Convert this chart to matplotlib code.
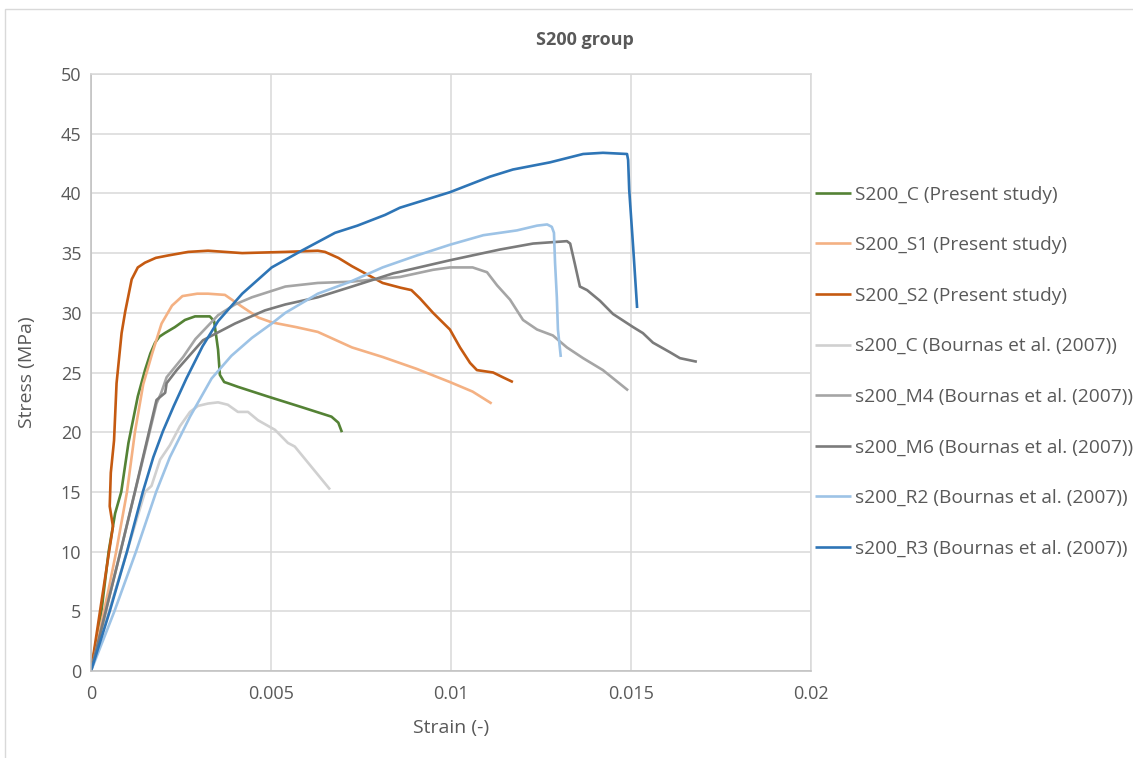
import matplotlib
matplotlib.use("Agg")
import matplotlib.pyplot as plt
from matplotlib.patches import Rectangle

plt.rcParams['font.family'] = ['Open Sans', 'DejaVu Sans']

# Stress-strain curves, S200 group
s200_c_strain = [0, 0.00029, 0.00049, 0.00067, 0.00084, 0.00104, 0.0013, 0.0015, 0.00165, 0.00178,
                 0.0019, 0.00205, 0.00233, 0.00261, 0.00289, 0.0033, 0.00342, 0.00348, 0.00353, 0.00358,
                 0.0037, 0.0038, 0.00408, 0.0049, 0.00585, 0.00668, 0.00687, 0.00697]
s200_c_stress = [0, 5, 10, 13.2, 15, 19.1, 23.0, 25.2, 26.6, 27.5,
                 28.0, 28.3, 28.8, 29.4, 29.7, 29.7, 29.3, 28.0, 26.9, 24.8,
                 24.2, 24.1, 23.8, 23.0, 22.1, 21.3, 20.8, 20.0]

s200_s1_strain = [0, 0.0005, 0.0007, 0.001, 0.00122, 0.00145, 0.0017, 0.00196, 0.00225, 0.00254,
                  0.00295, 0.00325, 0.00372, 0.0042, 0.00465, 0.00502, 0.0057, 0.0063, 0.00725,
                  0.0081, 0.00905, 0.00997, 0.0106, 0.01113]
s200_s1_stress = [0, 7, 10, 15, 20, 24.0, 26.6, 29.1, 30.6, 31.4,
                  31.6, 31.6, 31.5, 30.5, 29.6, 29.2, 28.8, 28.4, 27.1,
                  26.3, 25.3, 24.2, 23.4, 22.4]

s200_s2_strain = [0, 0.0003, 0.00061, 0.00052, 0.00055, 0.00064, 0.00071, 0.00085, 0.00095, 0.00103,
                  0.00113, 0.0013, 0.0015, 0.0018, 0.00214, 0.0027, 0.00325, 0.0042, 0.0054, 0.0063,
                  0.0065, 0.00687, 0.00725, 0.0078, 0.0081, 0.0086, 0.0089, 0.00914, 0.0095, 0.00997,
                  0.01025, 0.01053, 0.01072, 0.01117, 0.01144, 0.01172]
s200_s2_stress = [0, 6, 12.1, 13.8, 16.6, 19.3, 24.1, 28.3, 30.1, 31.3,
                  32.8, 33.8, 34.2, 34.6, 34.8, 35.1, 35.2, 35.0, 35.1, 35.2,
                  35.1, 34.6, 33.9, 33.0, 32.5, 32.1, 31.9, 31.2, 30.0, 28.6,
                  27.1, 25.8, 25.2, 25.0, 24.6, 24.2]

b_c_strain = [0, 0.0015, 0.00168, 0.0018, 0.00192, 0.00219, 0.00247, 0.00275, 0.00297, 0.00325,
              0.00353, 0.0038, 0.00408, 0.00436, 0.00464, 0.00511, 0.00547, 0.00566, 0.00664]
b_c_stress = [0, 15.0, 15.5, 16.6, 17.7, 18.9, 20.5, 21.7, 22.2, 22.4,
              22.5, 22.3, 21.7, 21.7, 21.0, 20.2, 19.1, 18.8, 15.2]

b_m4_strain = [0, 0.0009, 0.00182, 0.00195, 0.0021, 0.00256, 0.0029, 0.00353, 0.004, 0.00447,
               0.0054, 0.0063, 0.0072, 0.00858, 0.0095, 0.00997, 0.0106, 0.011, 0.01128, 0.01164,
               0.012, 0.01239, 0.01283, 0.01322, 0.01367, 0.01422, 0.01492]
b_m4_stress = [0, 11.0, 22.4, 23.3, 24.6, 26.3, 27.8, 29.8, 30.7, 31.3,
               32.2, 32.5, 32.6, 33.0, 33.6, 33.8, 33.8, 33.4, 32.3, 31.1,
               29.4, 28.6, 28.1, 27.1, 26.2, 25.2, 23.5]

b_m6_strain = [0, 0.00082, 0.00121, 0.00182, 0.00206, 0.0021, 0.00238, 0.00311, 0.004, 0.00483,
               0.0054, 0.0063, 0.00725, 0.00839, 0.00997, 0.01136, 0.01228, 0.01322, 0.01331, 0.01344,
               0.01358, 0.01378, 0.01414, 0.0145, 0.01506, 0.01533, 0.01561, 0.01608, 0.01636, 0.01683]
b_m6_stress = [0, 10.0, 14.9, 22.7, 23.3, 24.1, 25.2, 27.7, 29.1, 30.2,
               30.7, 31.3, 32.2, 33.3, 34.4, 35.3, 35.8, 36.0, 35.8, 34.1,
               32.2, 31.9, 31.0, 29.9, 28.8, 28.3, 27.5, 26.7, 26.2, 25.9]

b_r2_strain = [0, 0.00065, 0.00125, 0.00181, 0.00219, 0.00275, 0.00335, 0.0039, 0.00447, 0.00502,
               0.0054, 0.0063, 0.0072, 0.0081, 0.00905, 0.00997, 0.0109, 0.01183, 0.01239, 0.01267,
               0.0128, 0.01286, 0.01289, 0.01294, 0.01297, 0.01305]
b_r2_stress = [0, 5, 10, 15, 17.9, 21.3, 24.5, 26.4, 27.9, 29.1,
               30.0, 31.6, 32.6, 33.8, 34.8, 35.7, 36.5, 36.9, 37.3, 37.4,
               37.2, 36.7, 34.2, 31.3, 28.6, 26.3]

b_r3_strain = [0, 0.00052, 0.001, 0.00144, 0.00173, 0.002, 0.0023, 0.00265, 0.0031, 0.00353,
               0.0042, 0.00502, 0.00585, 0.00678, 0.0074, 0.00817, 0.00858, 0.00997, 0.01108, 0.01172,
               0.01275, 0.01367, 0.01422, 0.01489, 0.01492, 0.01495, 0.01506, 0.01517]
b_r3_stress = [0, 5, 10, 15, 17.9, 20.1, 22.2, 24.5, 27.2, 29.3,
               31.6, 33.8, 35.2, 36.7, 37.3, 38.2, 38.8, 40.1, 41.4, 42.0,
               42.6, 43.3, 43.4, 43.3, 42.8, 40.3, 35.5, 30.4]

series_labels = [
    "S200_C (Present study)",
    "S200_S1 (Present study)",
    "S200_S2 (Present study)",
    "s200_C (Bournas et al. (2007))",
    "s200_M4 (Bournas et al. (2007))",
    "s200_M6 (Bournas et al. (2007))",
    "s200_R2 (Bournas et al. (2007))",
    "s200_R3 (Bournas et al. (2007))",
]
series_data = [
    (s200_c_strain, s200_c_stress),
    (s200_s1_strain, s200_s1_stress),
    (s200_s2_strain, s200_s2_stress),
    (b_c_strain, b_c_stress),
    (b_m4_strain, b_m4_stress),
    (b_m6_strain, b_m6_stress),
    (b_r2_strain, b_r2_stress),
    (b_r3_strain, b_r3_stress),
]
series_colors = ["#548235", "#F4B183", "#C55A11", "#D0D0D0",
                 "#A5A5A5", "#7B7B7B", "#9DC3E6", "#2E75B6"]

x_ticks = [0, 0.005, 0.01, 0.015, 0.02]
x_tick_labels = ["0", "0.005", "0.01", "0.015", "0.02"]
y_ticks = list(range(0, 51, 5))

W, H = 1133, 758
fig = plt.figure(figsize=(W / 100, H / 100), dpi=100)
fig.patch.set_facecolor("white")

# chart-area frame
fig.add_artist(Rectangle((5 / W, -0.5), 2.0, 0.5 + 1 - 8.5 / H, transform=fig.transFigure,
                         fill=False, ec="#D9D9D9", lw=1.0))

ax = fig.add_axes([91 / W, 1 - 671 / H, (811 - 91) / W, (671 - 74) / H])

for (xs, ys), lab, col in zip(series_data, series_labels, series_colors):
    ax.plot(xs, ys, color=col, lw=1.9, label=lab, solid_capstyle="butt", solid_joinstyle="round")

ax.set_xlim(0, 0.02)
ax.set_ylim(0, 50)
ax.set_xticks(x_ticks)
ax.set_xticklabels(x_tick_labels)
ax.set_yticks(y_ticks)
ax.grid(True, color="#D9D9D9", lw=1.1)
ax.set_axisbelow(True)
ax.tick_params(length=0, colors="#595959", labelsize=13)
ax.tick_params(axis="x", pad=10)
ax.tick_params(axis="y", pad=7)
for side in ("top", "right"):
    ax.spines[side].set_color("#D9D9D9")
    ax.spines[side].set_linewidth(1.1)
for side in ("left", "bottom"):
    ax.spines[side].set_color("#BFBFBF")
    ax.spines[side].set_linewidth(1.1)

ax.set_xlabel("Strain (-)", fontsize=14, color="#595959")
ax.xaxis.set_label_coords((451 - 91) / 720, (671 - 728) / 597)
ax.xaxis.label.set_verticalalignment("center")
ax.set_ylabel("Stress (MPa)", fontsize=14, color="#595959")
ax.yaxis.set_label_coords((27 - 91) / 720, 0.5)
ax.yaxis.label.set_verticalalignment("center")

fig.text(585 / W, 1 - 40 / H, "S200 group", ha="center", va="center",
         fontsize=13, fontweight="bold", color="#595959")

leg = ax.legend(loc="upper left", bbox_to_anchor=(815 / W, 1 - 185.5 / H), bbox_transform=fig.transFigure,
                frameon=False, fontsize=13.8, handlelength=1.88, handletextpad=0.2,
                labelspacing=1.70, borderpad=0, borderaxespad=0)
for t in leg.get_texts():
    t.set_color("#595959")

fig.savefig("out.png", dpi=100, facecolor="white")
